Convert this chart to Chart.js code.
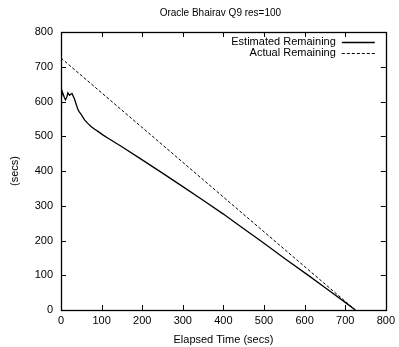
<!DOCTYPE html>
<html>
<head>
<meta charset="utf-8">
<script src="https://cdn.jsdelivr.net/npm/chart.js@4.4.1/dist/chart.umd.min.js"></script>
<style>
  html, body { margin: 0; padding: 0; background: #fff; }
  #wrap { width: 399px; height: 347px; }
</style>
</head>
<body>
<div id="wrap"><canvas id="chart"></canvas></div>
<script>
// Elapsed time (secs) vs. estimated remaining time (secs)
const estTime = [0, 1, 3, 8, 11, 14, 17, 21, 24, 27, 33, 38, 42, 45, 50, 58, 66, 74, 83, 91, 103, 115,
    150, 200, 250, 300, 350, 400, 438, 500, 550, 610, 650, 700, 725];
const estRemaining = [575, 612, 629, 612, 605, 612, 625, 618, 621, 623, 608, 590, 576, 570, 562, 547, 537, 528, 520, 514, 504, 495,
    470, 432, 394, 355, 316, 276, 244, 192, 149, 99, 65, 22, 0];

// Actual remaining time is a straight line down to completion
const actualTime = [0, 725];
const actualRemaining = [725, 0];

const seriesNames = ['Estimated Remaining', 'Actual Remaining'];
const axisTicks = [0, 100, 200, 300, 400, 500, 600, 700, 800];
const chartTitle = 'Oracle Bhairav Q9 res=100';

const FONT = 'Liberation Sans, Arial, Helvetica, sans-serif';

const toPoints = (xs, ys) => xs.map((x, i) => ({ x: x, y: ys[i] }));

// gnuplot-style frame: box border, inward ticks on all four sides,
// title centred over the plot and the key inside the top right corner
const framePlugin = {
    id: 'frame',
    afterDatasetsDraw(chart) {
        const { ctx, chartArea: a, scales } = chart;
        const len = 5;
        ctx.save();
        ctx.strokeStyle = '#000';
        ctx.lineWidth = 1;
        ctx.beginPath();
        axisTicks.forEach(v => {
            const x = Math.round(scales.x.getPixelForValue(v)) + 0.5;
            ctx.moveTo(x, a.bottom); ctx.lineTo(x, a.bottom - len);
            ctx.moveTo(x, a.top); ctx.lineTo(x, a.top + len);
            const y = Math.round(scales.y.getPixelForValue(v)) + 0.5;
            ctx.moveTo(a.left, y); ctx.lineTo(a.left + len, y);
            ctx.moveTo(a.right, y); ctx.lineTo(a.right - len, y);
        });
        ctx.stroke();
        ctx.lineWidth = 1.3;
        ctx.strokeRect(Math.round(a.left) + 0.5, Math.round(a.top) + 0.5,
            Math.round(a.right - a.left), Math.round(a.bottom - a.top));

        ctx.fillStyle = '#000';
        ctx.textBaseline = 'middle';

        // title
        ctx.font = '10px ' + FONT;
        ctx.textAlign = 'center';
        ctx.fillText(chartTitle, (a.left + a.right) / 2 - 3, 13);

        // key
        ctx.font = '11px ' + FONT;
        ctx.textAlign = 'right';
        const textRight = a.right - 50;
        chart.data.datasets.forEach((ds, i) => {
            const y = a.top + 10 + i * 10.5;
            ctx.fillText(ds.label, textRight, y);
            ctx.beginPath();
            ctx.lineWidth = ds.borderWidth;
            ctx.setLineDash(ds.borderDash || []);
            ctx.moveTo(textRight + 6, Math.round(y) + 0.5);
            ctx.lineTo(textRight + 39, Math.round(y) + 0.5);
            ctx.stroke();
        });
        ctx.restore();
    }
};

new Chart(document.getElementById('chart'), {
    type: 'line',
    data: {
        datasets: [
            {
                label: seriesNames[0],
                data: toPoints(estTime, estRemaining),
                borderColor: '#000',
                borderWidth: 1.3,
                pointRadius: 0,
                tension: 0,
                fill: false
            },
            {
                label: seriesNames[1],
                data: toPoints(actualTime, actualRemaining),
                borderColor: '#000',
                borderWidth: 1,
                borderDash: [3, 2],
                pointRadius: 0,
                tension: 0,
                fill: false
            }
        ]
    },
    options: {
        responsive: true,
        maintainAspectRatio: false,
        animation: false,
        layout: { padding: { left: 0, right: 12, top: 32, bottom: 0 } },
        scales: {
            x: {
                type: 'linear',
                min: 0,
                max: 800,
                afterBuildTicks: s => { s.ticks = axisTicks.map(v => ({ value: v })); },
                afterFit: s => { s.height = 37; },
                grid: { display: false, drawTicks: false },
                border: { display: false },
                ticks: { color: '#000', padding: 4, maxRotation: 0, font: { family: FONT, size: 11 } },
                title: {
                    display: true,
                    text: 'Elapsed Time (secs)',
                    color: '#000',
                    padding: { top: 2, bottom: 0 },
                    font: { family: FONT, size: 11 }
                }
            },
            y: {
                type: 'linear',
                min: 0,
                max: 800,
                afterBuildTicks: s => { s.ticks = axisTicks.map(v => ({ value: v })); },
                afterFit: s => { s.width = 61; },
                grid: { display: false, drawTicks: false },
                border: { display: false },
                ticks: { color: '#000', padding: 8, font: { family: FONT, size: 11 } },
                title: {
                    display: true,
                    text: '(secs)',
                    color: '#000',
                    padding: { top: 8, bottom: 0 },
                    font: { family: FONT, size: 11 }
                }
            }
        },
        plugins: {
            legend: { display: false },
            tooltip: { enabled: false },
            title: { display: false }
        }
    },
    plugins: [framePlugin]
});
</script>
</body>
</html>
